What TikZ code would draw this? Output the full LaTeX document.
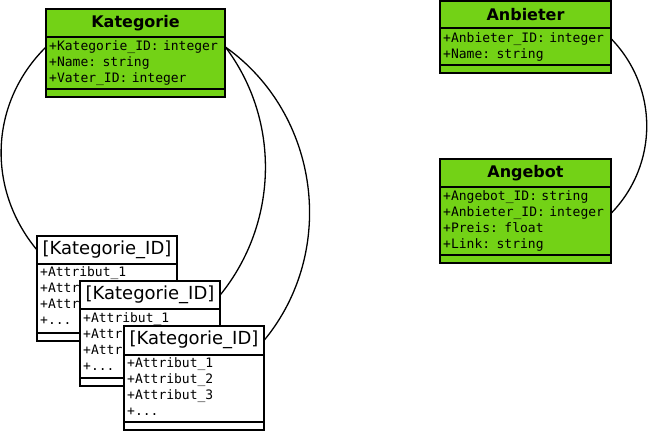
\documentclass[tikz,border=0pt]{standalone}
\usepackage{fontspec}
\newfontfamily\monof{DejaVu Sans Mono}
\newfontfamily\sansf{DejaVu Sans}
\definecolor{umlgreen}{HTML}{73D216}
\tikzset{
  boxline/.style={line width=2pt, line join=miter},
  conn/.style={line width=1.3pt},
  attr/.style={anchor=west, inner xsep=3pt, inner ysep=0pt, align=left,
    text height=9.5pt, text depth=3pt, font=\monof\fontsize{13}{16}\selectfont},
  gtitle/.style={inner sep=0pt, font=\sansf\bfseries\fontsize{16}{19}\selectfont},
  stitle/.style={inner sep=0pt, font=\sansf\fontsize{18}{21}\selectfont},
}
\begin{document}
\begin{tikzpicture}[x=1pt,y=1pt]
\useasboundingbox (0,0) rectangle (648,-432);

% ---------- Kategorie ----------
\draw[boxline, fill=umlgreen] (46,-9) rectangle (225,-97);
\draw[boxline] (46,-37) -- (225,-37);
\draw[boxline] (46,-89) -- (225,-89);
\node[gtitle, minimum width=179pt, minimum height=28pt] (kat) at (135.5,-23) {Kategorie};
\node[attr, text width=173pt] (kid) at (46,-47) {+Kategorie\_ID: integer};
\node[attr, text width=173pt] (kname) at (46,-63) {+Name: string};
\node[attr, text width=173pt] (kvat) at (46,-79) {+Vater\_ID: integer};

% ---------- Anbieter ----------
\draw[boxline, fill=umlgreen] (440,-1) rectangle (611,-73);
\draw[boxline] (440,-28) -- (611,-28);
\draw[boxline] (440,-65) -- (611,-65);
\node[gtitle, minimum width=171pt, minimum height=27pt] (anb) at (525.5,-14.5) {Anbieter};
\node[attr, text width=165pt] (aid) at (440,-39) {+Anbieter\_ID: integer};
\node[attr, text width=165pt] (aname) at (440,-55) {+Name: string};

% ---------- Angebot ----------
\draw[boxline, fill=umlgreen] (440,-159) rectangle (611,-263);
\draw[boxline] (440,-187) -- (611,-187);
\draw[boxline] (440,-255) -- (611,-255);
\node[gtitle, minimum width=171pt, minimum height=28pt] (ang) at (525.5,-173) {Angebot};
\node[attr, text width=165pt] (gid) at (440,-197) {+Angebot\_ID: string};
\node[attr, text width=165pt] (gaid) at (440,-213) {+Anbieter\_ID: integer};
\node[attr, text width=165pt] (gpreis) at (440,-229) {+Preis: float};
\node[attr, text width=165pt] (glink) at (440,-245) {+Link: string};

% ---------- Kategorie boxes (stacked) ----------
% box 1 (partly hidden behind box 2)
\draw[boxline, fill=white] (37,-236) rectangle (177,-340.5);
\draw[boxline] (37,-263.5) -- (177,-263.5);
\draw[boxline] (37,-333) -- (177,-333);
\node[stitle, minimum width=140pt, minimum height=27.5pt] (t1) at (107,-249.75) {[Kategorie\_ID]};
\node[attr, text width=134pt] (a11) at (37,-273.5) {+Attribut\_1};
\begin{scope}
\clip (36,-281) rectangle (79,-332);
\node[attr, text width=134pt] (a12) at (37,-289.5) {+Attribut\_2};
\node[attr, text width=134pt] (a13) at (37,-305.5) {+Attribut\_3};
\node[attr, text width=134pt] (a14) at (37,-321.5) {+...};
\end{scope}
% box 2 (partly hidden behind box 3)
\draw[boxline, fill=white] (80,-281) rectangle (220,-385.5);
\draw[boxline] (80,-309) -- (220,-309);
\draw[boxline] (80,-378) -- (220,-378);
\node[stitle, minimum width=140pt, minimum height=28pt] (t2) at (150,-295) {[Kategorie\_ID]};
\node[attr, text width=134pt] (a21) at (80,-319) {+Attribut\_1};
\begin{scope}
\clip (79,-326) rectangle (123,-377);
\node[attr, text width=134pt] (a22) at (80,-335) {+Attribut\_2};
\node[attr, text width=134pt] (a23) at (80,-351) {+Attribut\_3};
\node[attr, text width=134pt] (a24) at (80,-367) {+...};
\end{scope}
% box 3
\draw[boxline, fill=white] (124,-326) rectangle (264,-430);
\draw[boxline] (124,-354.5) -- (264,-354.5);
\draw[boxline] (124,-422) -- (264,-422);
\node[stitle, minimum width=140pt, minimum height=28.5pt] (t3) at (194,-340.25) {[Kategorie\_ID]};
\node[attr, text width=134pt] (a31) at (124,-364) {+Attribut\_1};
\node[attr, text width=134pt] (a32) at (124,-380) {+Attribut\_2};
\node[attr, text width=134pt] (a33) at (124,-396) {+Attribut\_3};
\node[attr, text width=134pt] (a34) at (124,-412) {+...};

% ---------- connectors ----------
\draw[conn] (kid.west) to[out=224.6, in=129.6] (t1.west);
\draw[conn] (kid.east) to[out=-53, in=51, looseness=0.95] (t2.east);
\draw[conn] (kid.east) to[out=-35.4, in=50.5] (t3.east);
\draw[conn] (aid.east) to[out=-46, in=46] (gaid.east);
\end{tikzpicture}
\end{document}
